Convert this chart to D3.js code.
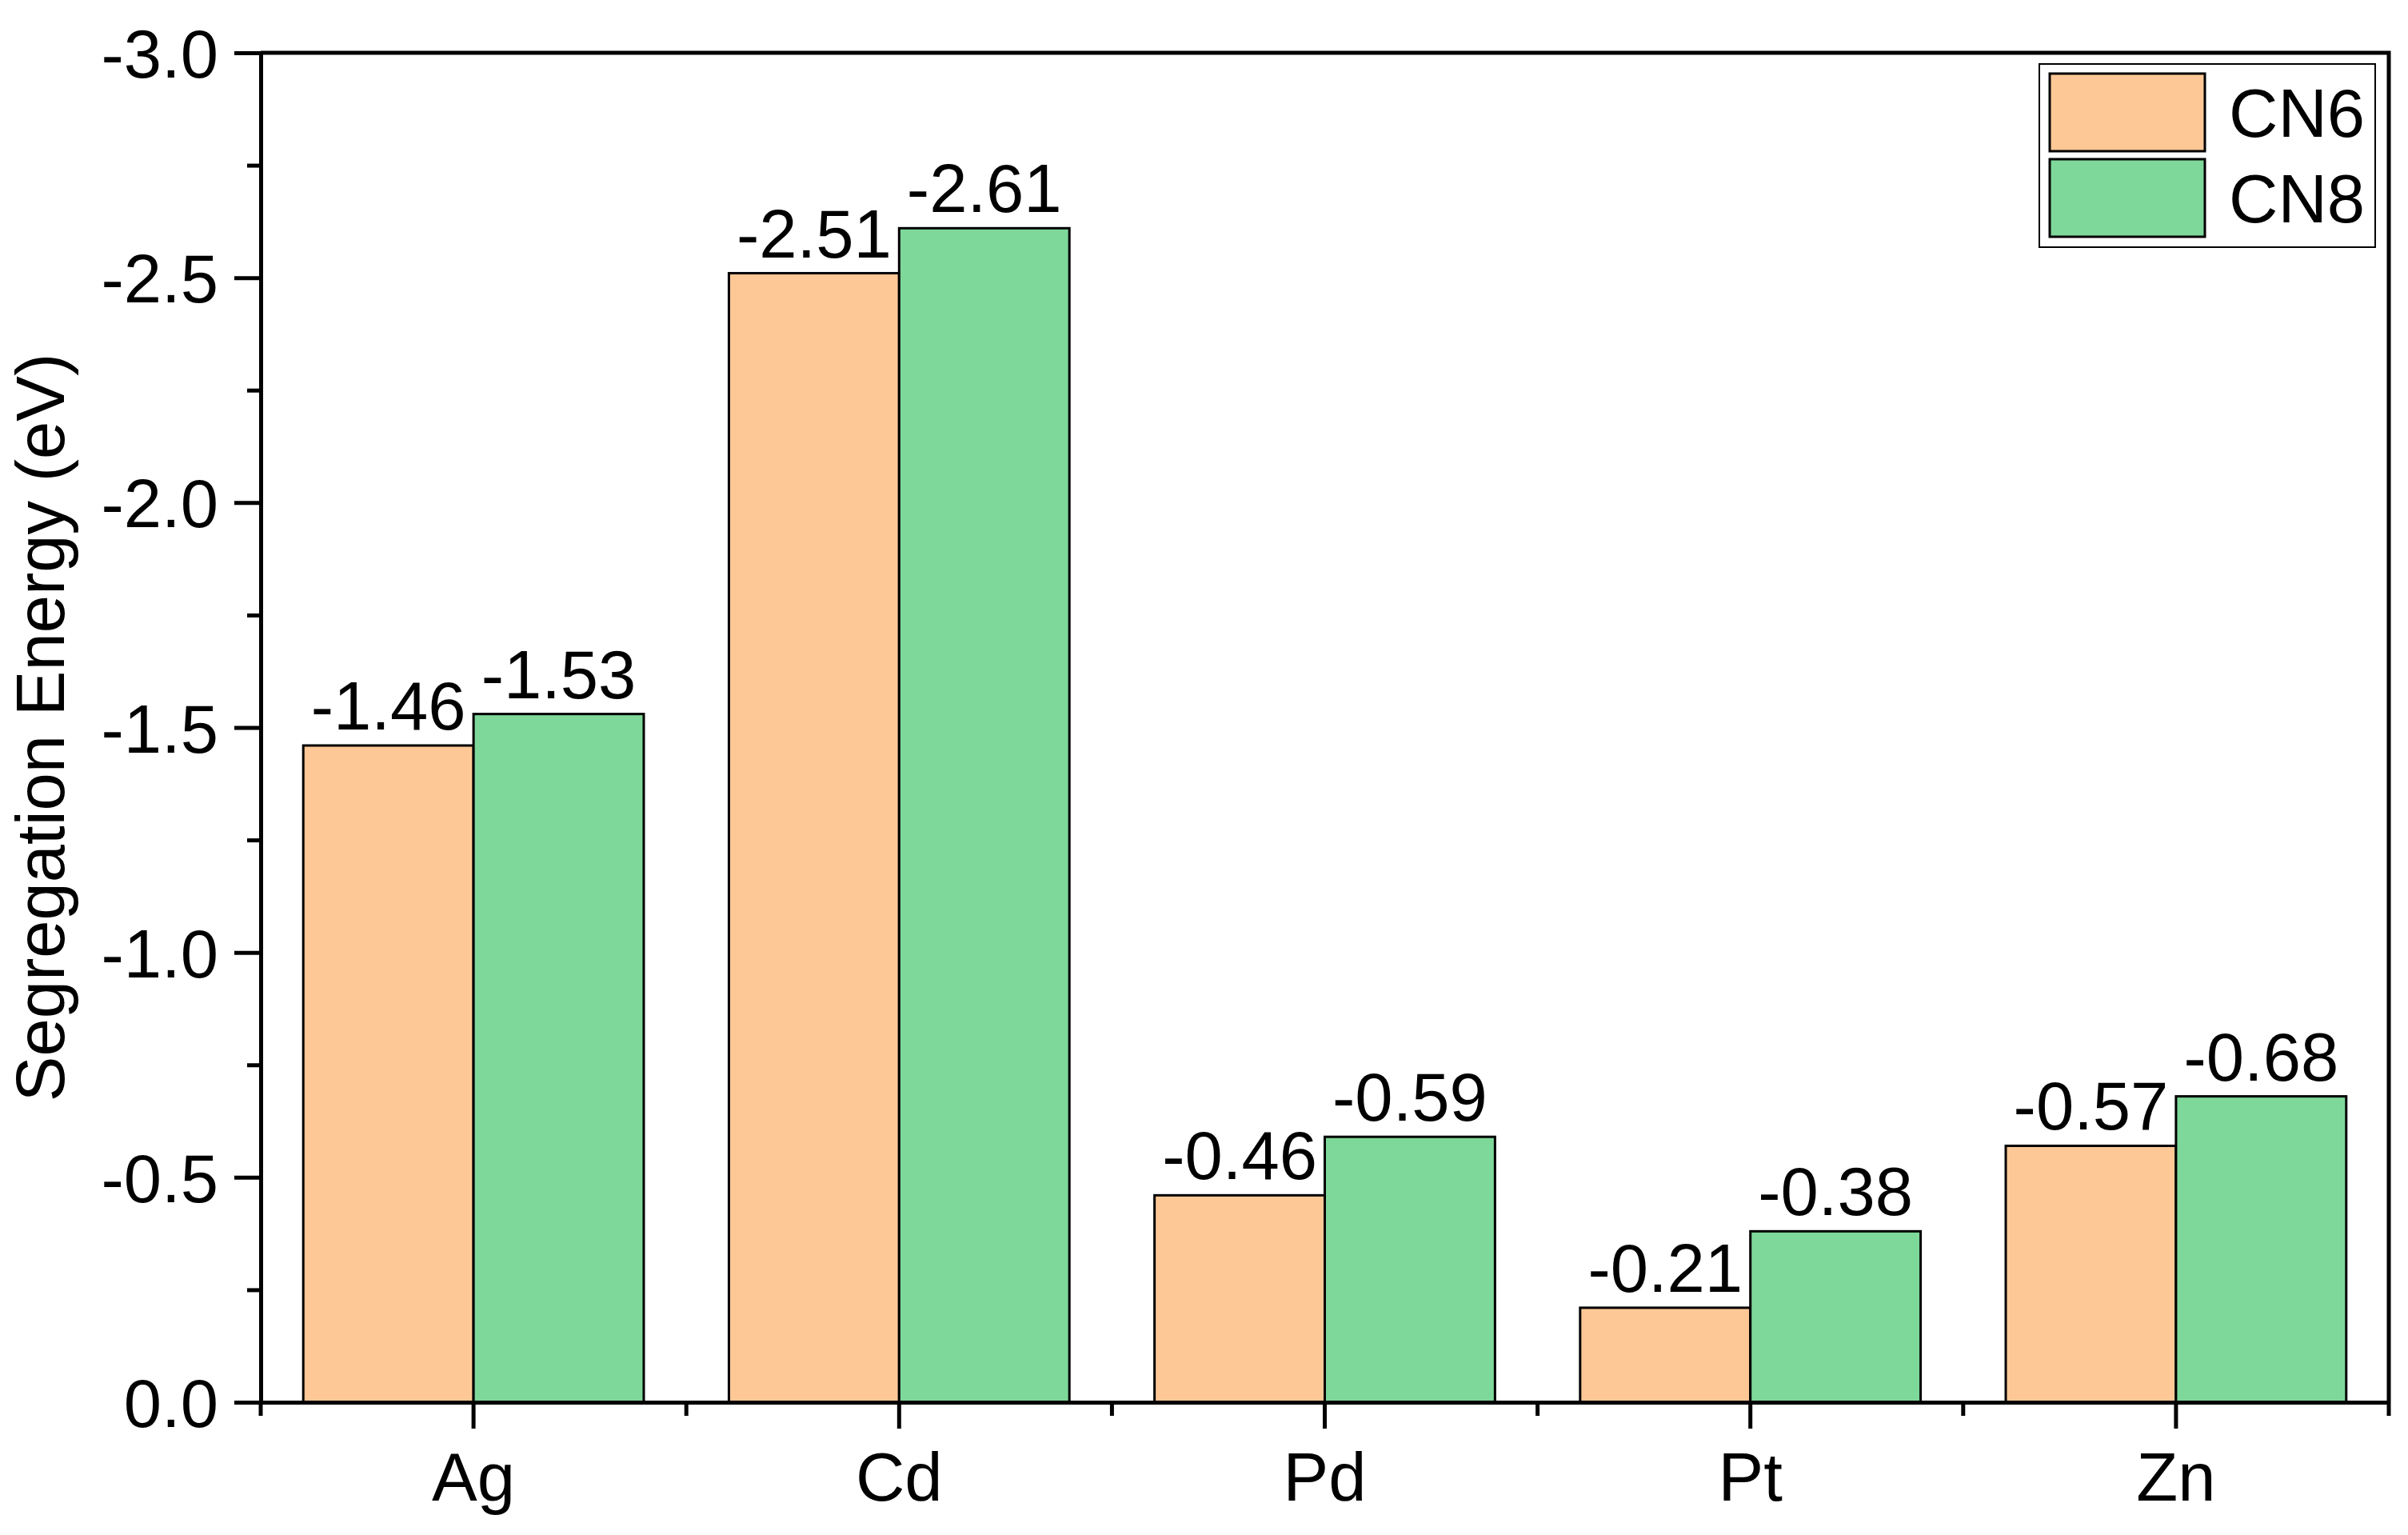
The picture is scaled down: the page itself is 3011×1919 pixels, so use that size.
<!DOCTYPE html>
<html>
<head>
<meta charset="utf-8">
<script src="https://cdn.jsdelivr.net/npm/d3@7"></script>
<style>
  body { margin: 0; background: #fff; }
  text { font-family: "Liberation Sans", Arial, sans-serif; fill: #000; }
</style>
</head>
<body>
<svg id="chart" width="3011" height="1919"></svg>
<script>
// data
var categories = ["Ag", "Cd", "Pd", "Pt", "Zn"];
var seriesNames = ["CN6", "CN8"];
var cn6 = [-1.46, -2.51, -0.46, -0.21, -0.57];
var cn8 = [-1.53, -2.61, -0.59, -0.38, -0.68];
var colors = ["#FEC896", "#7ED89A"];
var yMajor = [0, -0.5, -1.0, -1.5, -2.0, -2.5, -3.0];
var yMinor = [-0.25, -0.75, -1.25, -1.75, -2.25, -2.75];

var svg = d3.select("#chart");

// plot frame (window.top is reserved, so plotTop etc.)
var plotLeft = 326, plotRight = 2987, plotTop = 66, plotBottom = 1753;
var fontSize = 85;

var x = d3.scaleBand()
    .domain(categories)
    .range([plotLeft, plotRight])
    .paddingInner(0.2)
    .paddingOuter(0.1);

var xSub = d3.scaleBand()
    .domain(seriesNames)
    .range([0, x.bandwidth()]);

var y = d3.scaleLinear()
    .domain([0, -3])
    .range([plotBottom, plotTop]);

var rows = categories.map(function(c, i) {
    return {cat: c, values: [
        {name: "CN6", v: cn6[i], color: colors[0]},
        {name: "CN8", v: cn8[i], color: colors[1]}
    ]};
});

// bars
var groups = svg.selectAll(".grp")
    .data(rows)
    .enter().append("g")
    .attr("class", "grp")
    .attr("transform", function(d) { return "translate(" + x(d.cat) + ",0)"; });

groups.selectAll("rect")
    .data(function(d) { return d.values; })
    .enter().append("rect")
    .attr("x", function(d) { return xSub(d.name); })
    .attr("y", function(d) { return y(d.v); })
    .attr("width", xSub.bandwidth())
    .attr("height", function(d) { return y(0) - y(d.v); })
    .attr("fill", function(d) { return d.color; })
    .attr("stroke", "#000")
    .attr("stroke-width", 3);

groups.selectAll(".val")
    .data(function(d) { return d.values; })
    .enter().append("text")
    .attr("class", "val")
    .attr("x", function(d) { return xSub(d.name) + xSub.bandwidth() / 2; })
    .attr("y", function(d) { return y(d.v) - 20; })
    .attr("text-anchor", "middle")
    .style("font-size", fontSize + "px")
    .text(function(d) { return d.v.toFixed(2); });

// y axis
var yAxis = svg.append("g")
    .attr("transform", "translate(" + plotLeft + ",0)")
    .call(d3.axisLeft(y).tickValues(yMajor).tickSize(33).tickSizeOuter(0)
        .tickFormat(function(d) { return d.toFixed(1); }));
yAxis.selectAll(".tick text")
    .attr("x", -53)
    .attr("dy", "0.36em")
    .style("font-size", fontSize + "px")
    .style("font-family", "Liberation Sans, Arial, sans-serif");

svg.append("g")
    .attr("transform", "translate(" + plotLeft + ",0)")
    .call(d3.axisLeft(y).tickValues(yMinor).tickSize(17).tickSizeOuter(0).tickFormat(""))
    .select(".domain").remove();

// x axis
var xAxis = svg.append("g")
    .attr("transform", "translate(0," + plotBottom + ")")
    .call(d3.axisBottom(x).tickSize(33).tickSizeOuter(0));
xAxis.selectAll(".tick text")
    .attr("y", 0)
    .attr("dy", 0)
    .attr("transform", "translate(0,123)")
    .style("font-size", fontSize + "px")
    .style("font-family", "Liberation Sans, Arial, sans-serif");

var bounds = d3.range(categories.length + 1).map(function(i) { return plotLeft + i * x.step(); });
svg.append("g")
    .selectAll("line")
    .data(bounds)
    .enter().append("line")
    .attr("x1", function(d) { return d; })
    .attr("x2", function(d) { return d; })
    .attr("y1", plotBottom)
    .attr("y2", plotBottom + 17)
    .attr("stroke", "#000")
    .attr("stroke-width", 5);

svg.selectAll(".domain, .tick line")
    .attr("stroke", "#000")
    .attr("stroke-width", 5);

// top and right frame
svg.append("path")
    .attr("d", "M" + plotLeft + "," + plotTop + "H" + plotRight + "V" + plotBottom)
    .attr("fill", "none")
    .attr("stroke", "#000")
    .attr("stroke-width", 5);

// y title
svg.append("text")
    .attr("transform", "translate(80," + ((plotTop + plotBottom) / 2) + ") rotate(-90)")
    .attr("text-anchor", "middle")
    .style("font-size", fontSize + "px")
    .text("Segregation Energy (eV)");

// legend
var legend = svg.append("g");
legend.append("rect")
    .attr("x", 2550).attr("y", 80)
    .attr("width", 420).attr("height", 229)
    .attr("fill", "#fff")
    .attr("stroke", "#000")
    .attr("stroke-width", 2);

var items = legend.selectAll(".item")
    .data(seriesNames)
    .enter().append("g")
    .attr("class", "item")
    .attr("transform", function(d, i) { return "translate(2563," + (92 + i * 107) + ")"; });

items.append("rect")
    .attr("width", 194)
    .attr("height", 97)
    .attr("fill", function(d, i) { return colors[i]; })
    .attr("stroke", "#000")
    .attr("stroke-width", 3);

items.append("text")
    .attr("x", 224)
    .attr("y", 48)
    .attr("dy", "0.36em")
    .style("font-size", fontSize + "px")
    .text(function(d) { return d; });
</script>
</body>
</html>
